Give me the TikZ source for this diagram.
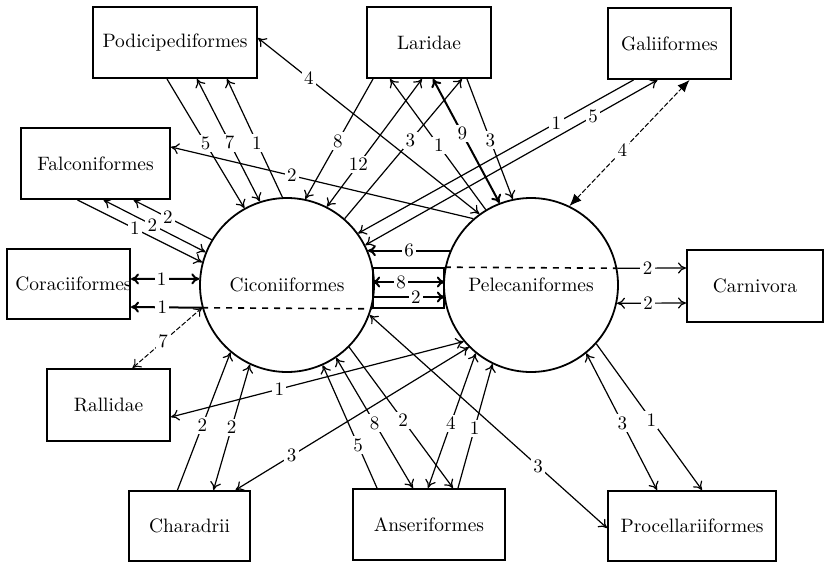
\documentclass[tikz,border=0pt]{standalone}
\usetikzlibrary{arrows.meta}

\begin{document}
\begin{tikzpicture}[x=0.5pt,y=-0.5pt,
  >={Computer Modern Rightarrow[length=4pt,width=5.5pt]},
  taxon/.style={draw,line width=1pt,inner sep=0pt,minimum height=35.5pt,font=\fontsize{9.7}{11}\selectfont},
  order/.style={draw,circle,line width=0.9pt,minimum size=87pt,inner sep=0pt,font=\fontsize{9.7}{11}\selectfont},
  link/.style={line width=0.6pt},
  heavy/.style={line width=1pt},
  faint/.style={line width=0.5pt,dash pattern=on 2.5pt off 1pt},
  num/.style={fill=white,inner sep=1.2pt,font=\fontsize{9.5}{10}\selectfont}]
  \useasboundingbox (0,0) rectangle (825,562);
  \node[order] (cic) at (287,285) {Ciconiiformes};
  \node[order] (pele) at (531,285) {Pelecaniformes};
  \node[draw,line width=0.8pt,minimum width=35.5pt,minimum height=20pt,inner sep=0pt] (chan) at (408.5,288) {};

  \node[taxon,minimum width=82pt] (pod) at (175,42.5) {Podicipediformes};
  \node[taxon,minimum width=62pt] (lar) at (429,42.5) {Laridae};
  \node[taxon,minimum width=61.5pt] (gal) at (669.5,43.5) {Galiiformes};
  \node[taxon,minimum width=74.5pt] (fal) at (95.5,163.5) {Falconiformes};
  \node[taxon,minimum width=61.5pt,minimum height=35pt,
    label={[font=\fontsize{9.7}{11}\selectfont,xshift=2.5pt]center:Coraciiformes}] (cor) at (68.5,284) {};
  \node[taxon,minimum width=61.5pt,minimum height=36pt] (ral) at (108.5,405) {Rallidae};
  \node[taxon,minimum width=60.5pt,minimum height=35pt] (cha) at (189.5,526) {Charadrii};
  \node[taxon,minimum width=76pt] (ans) at (429,524.5) {Anseriformes};
  \node[taxon,minimum width=84pt,minimum height=35pt] (pro) at (692,526) {Procellariiformes};
  \node[taxon,minimum width=68pt,minimum height=36pt] (car) at (755,286) {Carnivora};

  % Podicipediformes
  \draw[link,->] ([xshift=-4pt]pod.south) -- node[num]{5} (cic.119);
  \draw[link,<->] ([xshift=11pt]pod.south) -- node[num,pos=0.52]{7} (cic.108);
  \draw[link,->] (cic.93) -- node[num,pos=0.46]{1} ([xshift=26pt]pod.south);
  \draw[link,<->] (pele.126) -- node[num,pos=0.77]{4} ([yshift=2.25pt]pod.east);

  % Laridae
  \draw[link,->] ([xshift=-28pt]lar.south) -- node[num,pos=0.52]{8} (cic.78);
  \draw[link,<->] ([xshift=-3.5pt]lar.south) -- node[num,pos=0.67]{12} (cic.63);
  \draw[link,->] (cic.49) -- node[num,pos=0.56]{3} ([xshift=16.5pt]lar.south);
  \draw[link,->] (pele.121) -- node[num,pos=0.49]{1} ([xshift=-19.5pt]lar.south);
  \draw[heavy,<->] (pele.111) -- node[num,pos=0.56]{9} ([xshift=2pt]lar.south);
  \draw[link,->] ([xshift=19pt]lar.south) -- node[num,pos=0.51]{3} (pele.102);

  % Galiiformes
  \draw[link,->] ([xshift=-18pt]gal.south) -- node[num,pos=0.28]{1} (cic.36);
  \draw[link,<->] (cic.27) -- node[num,pos=0.78]{5} ([xshift=-6pt]gal.south);
  \draw[faint,{Latex[length=6pt,width=5pt]}-{Latex[length=6pt,width=5pt]}] (pele.64) -- node[num,pos=0.44]{4} ([xshift=10pt]gal.south);

  % Falconiformes
  \draw[link,->] (pele.131) -- node[num,pos=0.6]{2} ([yshift=8.25pt]fal.east);
  \draw[link,->] (cic.149) -- node[num,pos=0.56]{2} ([xshift=19pt]fal.south);
  \draw[link,<->] ([xshift=4pt]fal.south) -- node[num,pos=0.48]{2} (cic.158);
  \draw[link,->] ([xshift=-9pt]fal.south) -- node[num,pos=0.46]{1} (cic.165);

  % Coraciiformes, Rallidae
  \draw[heavy,<->] ([yshift=2.5pt]cor.east) -- node[num,pos=0.45]{1} (cic.176);
  \draw[heavy,->] (cic.195) -- node[num,pos=0.56]{1} ([yshift=-11.5pt]cor.east);
  \draw[faint,<->] (cic.195) -- node[num,pos=0.56]{7} ([xshift=12pt]ral.north);
  \draw[link,<->] (pele.220) -- node[num,pos=0.63]{1} ([yshift=-6pt]ral.east);

  % Charadrii
  \draw[link,->] ([xshift=-6pt]cha.north) -- node[num,pos=0.47]{2} (cic.230);
  \draw[link,<->] (cic.245) -- node[num,pos=0.5]{2} ([xshift=12pt]cha.north);
  \draw[link,<->] (pele.225) -- node[num,pos=0.76]{3} ([xshift=23pt]cha.north);

  % Anseriformes
  \draw[link,->] ([xshift=-26pt]ans.north) -- node[num,pos=0.35]{5} (cic.294);
  \draw[link,<->] (cic.304) -- node[num,pos=0.5]{8} ([xshift=-8pt]ans.north);
  \draw[link,->] (cic.315) -- node[num,pos=0.52]{2} ([xshift=12pt]ans.north);
  \draw[link,<->] (pele.231) -- node[num,pos=0.52]{4} ([xshift=-0.5pt]ans.north);
  \draw[link,->] ([xshift=14.5pt]ans.north) -- node[num,pos=0.48]{1} (pele.244);

  % Procellariiformes, Carnivora
  \draw[link,<->] (cic.340) -- node[num,pos=0.71]{3} ([yshift=-1pt]pro.west);
  \draw[link,<->] (pele.309) -- node[num,pos=0.51]{3} ([xshift=-17.5pt]pro.north);
  \draw[link,->] (pele.318) -- node[num,pos=0.52]{1} ([xshift=5pt]pro.north);
  \draw[link,<->] (pele.348) -- node[num,pos=0.45]{2} ([yshift=-8.5pt]car.west);
  \draw[link,->] (pele.11) -- node[num,pos=0.44]{2} ([yshift=9pt]car.west);

  % between the two orders
  \draw[heavy,->] (pele.157) -- node[num]{6} (cic.23);
  \draw[heavy,<->] ([yshift=3pt]chan.west) -- node[num,pos=0.4]{8} ([yshift=3pt]chan.east);
  \draw[heavy,->] ([yshift=-4.5pt]chan.west) -- node[num,pos=0.6]{2} ([yshift=-4.5pt]chan.east);
  \draw[line width=0.8pt,dashed] (chan.north east) -- (pele.11);
  \draw[line width=0.8pt,dashed] (cic.195) -- (chan.south west);
\end{tikzpicture}
\end{document}
